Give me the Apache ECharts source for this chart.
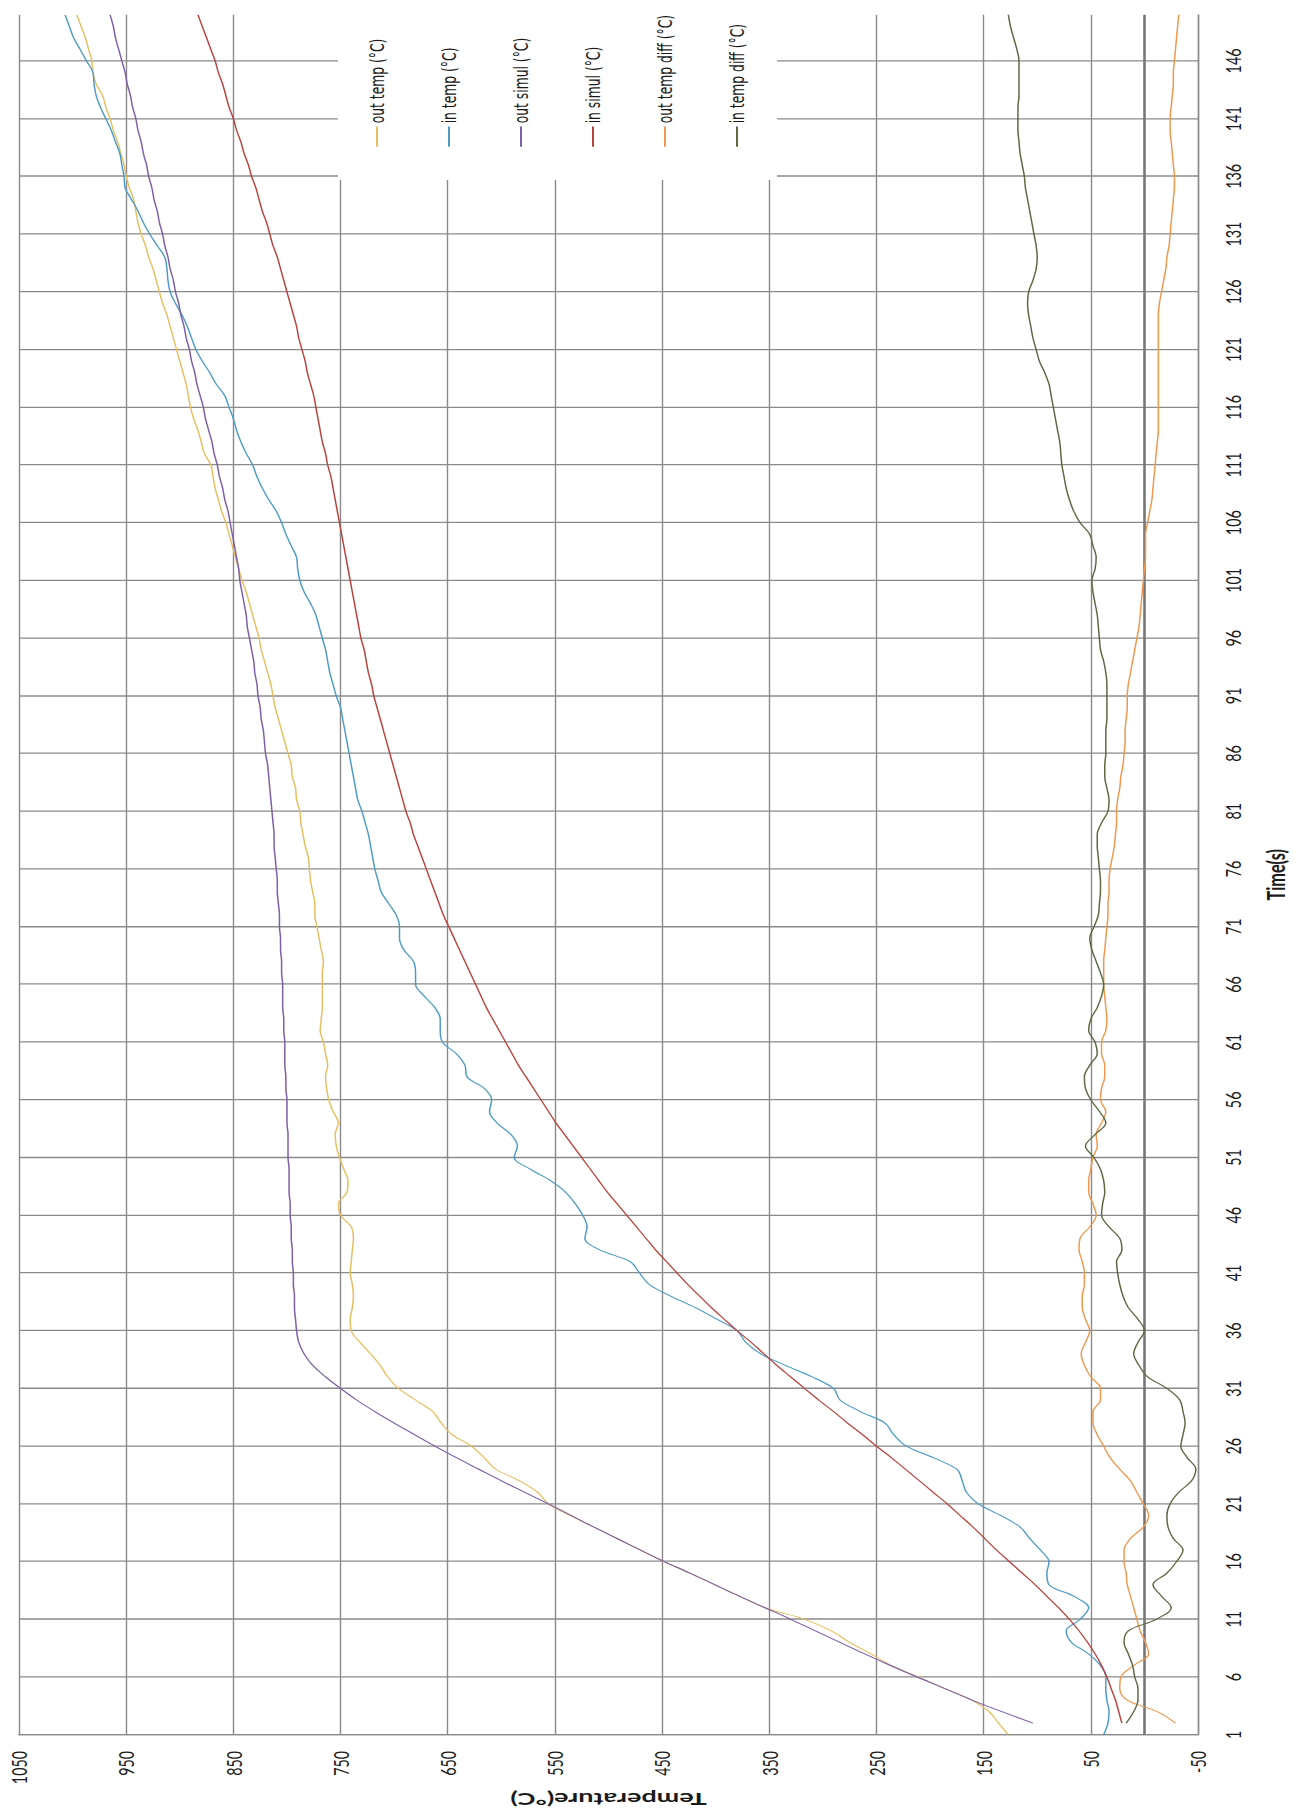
<!DOCTYPE html>
<html>
<head>
<meta charset="utf-8">
<script src="https://cdn.jsdelivr.net/npm/echarts@6/dist/echarts.min.js"></script>
<style>
  html, body { margin: 0; padding: 0; width: 1303px; height: 1814px; overflow: hidden; background: #fff; }
  /* The chart is laid out landscape, narrowed horizontally and turned a quarter turn counter-clockwise. */
  #chart {
    position: absolute; left: 0; top: 1814px;
    width: 2791px; height: 1303px;
    transform-origin: 0 0;
    transform: rotate(-90deg) scaleX(0.65);
  }
</style>
</head>
<body>
<div id="chart"></div>
<script>
// Time axis: one category per second, 1 .. 150 s
const timeSeconds = Array.from({ length: 150 }, (_, i) => String(i + 1));

// Temperature axis ticks (°C)
const tempMin = -50, tempMax = 1050, tempStep = 100;

// Measured outlet temperature (°C), t = 1..150 s
const outTemp = [
  127, 136, 145, 161, 186, 211, 236, 255, 275, 292,
  317, 354, 378, 401, 424, 448, 470, 492, 514, 536,
  556, 566, 583, 605, 616, 628, 646, 656, 664, 680,
  696, 706, 713, 722, 732, 740, 741, 739, 738, 739,
  741, 740, 739, 738, 740, 750, 752, 744, 743, 747,
  751, 754, 755, 752, 757, 761, 763, 764, 762, 764,
  766, 769, 768, 767, 767, 767, 767, 766, 768, 770,
  772, 774, 774, 776, 778, 779, 780, 783, 785, 787,
  788, 791, 792, 795, 796, 799, 802, 805, 808, 811,
  813, 815, 818, 821, 824, 826, 829, 832, 835, 838,
  842, 845, 848, 851, 854, 857, 861, 864, 867, 869,
  871, 877, 880, 883, 887, 890, 892, 894, 897, 900,
  903, 906, 909, 912, 916, 919, 922, 925, 929, 932,
  936, 939, 941, 943, 947, 950, 952, 955, 958, 962,
  965, 969, 972, 978, 981, 982, 985, 988, 992, 996
];

// Measured inlet temperature (°C)
const inTemp = [
  38, 34, 33, 35, 36, 36, 41, 52, 68, 73,
  60, 52, 66, 89, 91, 89, 97, 107, 116, 134,
  155, 166, 170, 175, 197, 222, 234, 242, 265, 284,
  290, 310, 335, 358, 372, 380, 399, 419, 442, 462,
  471, 480, 508, 522, 520, 524, 531, 540, 554, 573,
  588, 585, 591, 604, 611, 609, 616, 632, 634, 642,
  655, 657, 657, 662, 672, 680, 680, 682, 691, 695,
  695, 698, 705, 712, 715, 718, 720, 722, 724, 727,
  730, 734, 736, 738, 740, 742, 744, 746, 748, 750,
  754, 757, 760, 762, 764, 767, 770, 773, 778, 784,
  788, 790, 791, 796, 801, 805, 810, 817, 823, 828,
  832, 838, 843, 847, 850, 854, 858, 866, 872, 879,
  885, 889, 893, 898, 904, 909, 911, 912, 914, 921,
  928, 934, 939, 945, 951, 952, 954, 956, 960, 964,
  969, 974, 978, 980, 981, 987, 993, 999, 1003, 1007
];

// Simulated outlet temperature (°C), starts at t = 2 s
const outSimul = [
  null, 104, 133, 161, 186, 212, 237, 261, 284, 307,
  330, 354, 378, 401, 424, 448, 470, 492, 514, 535,
  556, 578, 600, 621, 642, 662, 681, 700, 718, 735,
  750, 764, 776, 784, 789, 791, 792, 793, 793, 794,
  794, 795, 795, 796, 796, 797, 797, 798, 798, 798,
  799, 799, 799, 800, 800, 800, 801, 801, 802, 802,
  802, 803, 803, 804, 804, 804, 805, 805, 806, 806,
  807, 807, 808, 809, 809, 810, 811, 812, 812, 813,
  814, 815, 816, 817, 818, 820, 821, 822, 824, 825,
  827, 828, 830, 831, 833, 835, 837, 838, 840, 842,
  844, 845, 847, 849, 851, 853, 855, 858, 860, 863,
  865, 868, 870, 873, 876, 878, 881, 884, 886, 889,
  891, 894, 896, 899, 901, 904, 906, 909, 911, 914,
  916, 919, 921, 924, 926, 929, 931, 934, 936, 939,
  941, 944, 946, 949, 951, 954, 957, 960, 962, 965
];

// Simulated inlet temperature (°C), starts at t = 2 s
const inSimul = [
  null, 21, 24, 27, 31, 35, 40, 46, 53, 61,
  70, 80, 91, 102, 114, 126, 138, 149, 160, 172,
  184, 197, 210, 223, 236, 250, 263, 277, 290, 304,
  317, 330, 343, 355, 367, 380, 392, 404, 415, 426,
  436, 446, 456, 465, 474, 483, 492, 501, 509, 517,
  525, 533, 541, 549, 556, 563, 570, 577, 584, 590,
  596, 602, 608, 614, 619, 624, 629, 634, 639, 644,
  649, 654, 658, 662, 666, 670, 674, 678, 682, 685,
  689, 692, 695, 698, 701, 704, 707, 710, 713, 716,
  719, 721, 724, 726, 728, 731, 733, 735, 737, 739,
  741, 743, 745, 747, 749, 751, 753, 755, 757, 759,
  762, 764, 767, 769, 771, 773, 775, 778, 781, 783,
  786, 789, 791, 794, 797, 800, 803, 806, 809, 813,
  816, 819, 823, 826, 829, 833, 836, 840, 843, 847,
  850, 854, 857, 860, 864, 867, 871, 875, 879, 883
];

// Outlet temperature difference (°C)
const outTempDiff = [
  null, -29, -12, 16, 23, 22, 10, -4, -1, 4,
  7, 10, 13, 16, 17, 19, 19, 13, 1, -4,
  1, 7, 13, 23, 32, 38, 44, 48, 48, 41,
  41, 50, 56, 59, 55, 51, 55, 58, 58, 56,
  56, 58, 61, 60, 51, 45, 48, 52, 52, 50,
  48, 44, 45, 40, 36, 41, 40, 37, 37, 40,
  40, 36, 35, 36, 37, 38, 38, 38, 37, 36,
  35, 34, 34, 33, 33, 32, 30, 28, 27, 26,
  26, 25, 23, 22, 20, 19, 18, 18, 17, 16,
  16, 15, 13, 11, 9, 7, 5, 4, 3, 2,
  1, 0, -1, -1, -1, -3, -5, -7, -8, -9,
  -10, -11, -12, -13, -13, -13, -13, -13, -13, -13,
  -13, -13, -13, -13, -14, -16, -18, -20, -21, -23,
  -24, -25, -26, -27, -28, -28, -27, -26, -25, -24,
  -24, -25, -26, -27, -27, -28, -29, -30, -31, -32
];

// Inlet temperature difference (°C)
const inTempDiff = [
  null, 17, 10, 6, 6, 9, 11, 15, 19, 15,
  -11, -25, -16, -8, -21, -30, -36, -27, -22, -21,
  -24, -32, -44, -48, -40, -34, -36, -38, -36, -33,
  -21, -3, 5, 10, 6, 0, 6, 15, 20, 23,
  25, 26, 21, 23, 33, 40, 39, 37, 38, 41,
  47, 55, 46, 36, 42, 50, 55, 56, 51, 44,
  46, 52, 50, 44, 40, 38, 41, 45, 49, 51,
  47, 43, 42, 41, 41, 42, 43, 44, 44, 40,
  34, 33, 35, 37, 37, 36, 36, 36, 35, 35,
  35, 35, 36, 38, 41, 42, 43, 44, 46, 48,
  49, 46, 45, 48, 51, 60, 66, 70, 73, 75,
  77, 78, 79, 81, 83, 85, 87, 89, 93, 98,
  101, 104, 106, 108, 109, 108, 104, 101, 100, 101,
  103, 105, 107, 109, 111, 112, 114, 116, 117, 118,
  118, 118, 117, 117, 117, 117, 119, 122, 125, 127
];

const seriesNames = [
  'out temp (°C)', 'in temp (°C)', 'out simul (°C)',
  'in simul (°C)', 'out temp diff (°C)', 'in temp diff (°C)'
];
const seriesData = [outTemp, inTemp, outSimul, inSimul, outTempDiff, inTempDiff];
const seriesColors = ['#e6bf62', '#4e9cc6', '#7d60a8', '#b8433f', '#ee9850', '#5b6a45'];

const gridGray = '#8a8a8a';
const textColor = '#1a1a1a';

const series = seriesNames.map((name, i) => ({
  name,
  type: 'line',
  data: seriesData[i],
  smooth: 0.35,
  symbol: 'none',
  connectNulls: false,
  lineStyle: { width: 1.5, color: seriesColors[i] },
  itemStyle: { color: seriesColors[i] },
  emphasis: { disabled: true },
  z: 3
}));

// Darker reference line at 0 °C, where the time axis crosses
series[0].markLine = {
  silent: true,
  symbol: 'none',
  label: { show: false },
  lineStyle: { color: '#777777', width: 2.6, type: 'solid' },
  data: [{ yAxis: 0 }],
  z: 2
};

const chart = echarts.init(document.getElementById('chart'), null, { renderer: 'svg' });
chart.setOption({
  animation: false,
  backgroundColor: '#ffffff',
  textStyle: { fontFamily: 'Lato' },
  grid: { left: 112, right: 23, top: 19, bottom: 105 },
  legend: {
    orient: 'vertical',
    left: 2514,
    top: 338,
    padding: [29, 16, 30, 51],
    backgroundColor: '#ffffff',
    icon: 'rect',
    itemWidth: 31,
    itemHeight: 2,
    itemGap: 52,
    textStyle: { fontFamily: 'DejaVu Sans', fontSize: 19, lineHeight: 20, color: textColor },
    data: seriesNames
  },
  xAxis: {
    type: 'category',
    data: timeSeconds,
    boundaryGap: false,
    name: 'Time(s)',
    nameLocation: 'middle',
    nameGap: 64,
    nameTextStyle: { fontFamily: 'Lato', fontWeight: 'bold', fontSize: 25, color: textColor },
    axisLine: { onZero: false, lineStyle: { color: gridGray, width: 1.4 } },
    axisTick: { show: false },
    axisLabel: { interval: 4, margin: 24, fontSize: 22, color: textColor },
    splitLine: { show: true, interval: 4, lineStyle: { color: gridGray, width: 2 } }
  },
  yAxis: {
    type: 'value',
    min: tempMin,
    max: tempMax,
    interval: tempStep,
    name: 'Temperature(°C)',
    nameLocation: 'middle',
    nameGap: 78,
    nameTextStyle: { fontFamily: 'Lato', fontWeight: 'bold', fontSize: 27, color: textColor },
    axisLine: { show: true, lineStyle: { color: gridGray, width: 2 } },
    axisTick: { show: false },
    axisLabel: {
      margin: 25, fontSize: 22, color: textColor,
      showMinLabel: true, showMaxLabel: true,
      formatter: (v) => String(v)
    },
    splitLine: { show: true, lineStyle: { color: gridGray, width: 1.4 } }
  },
  series
});
</script>
</body>
</html>
